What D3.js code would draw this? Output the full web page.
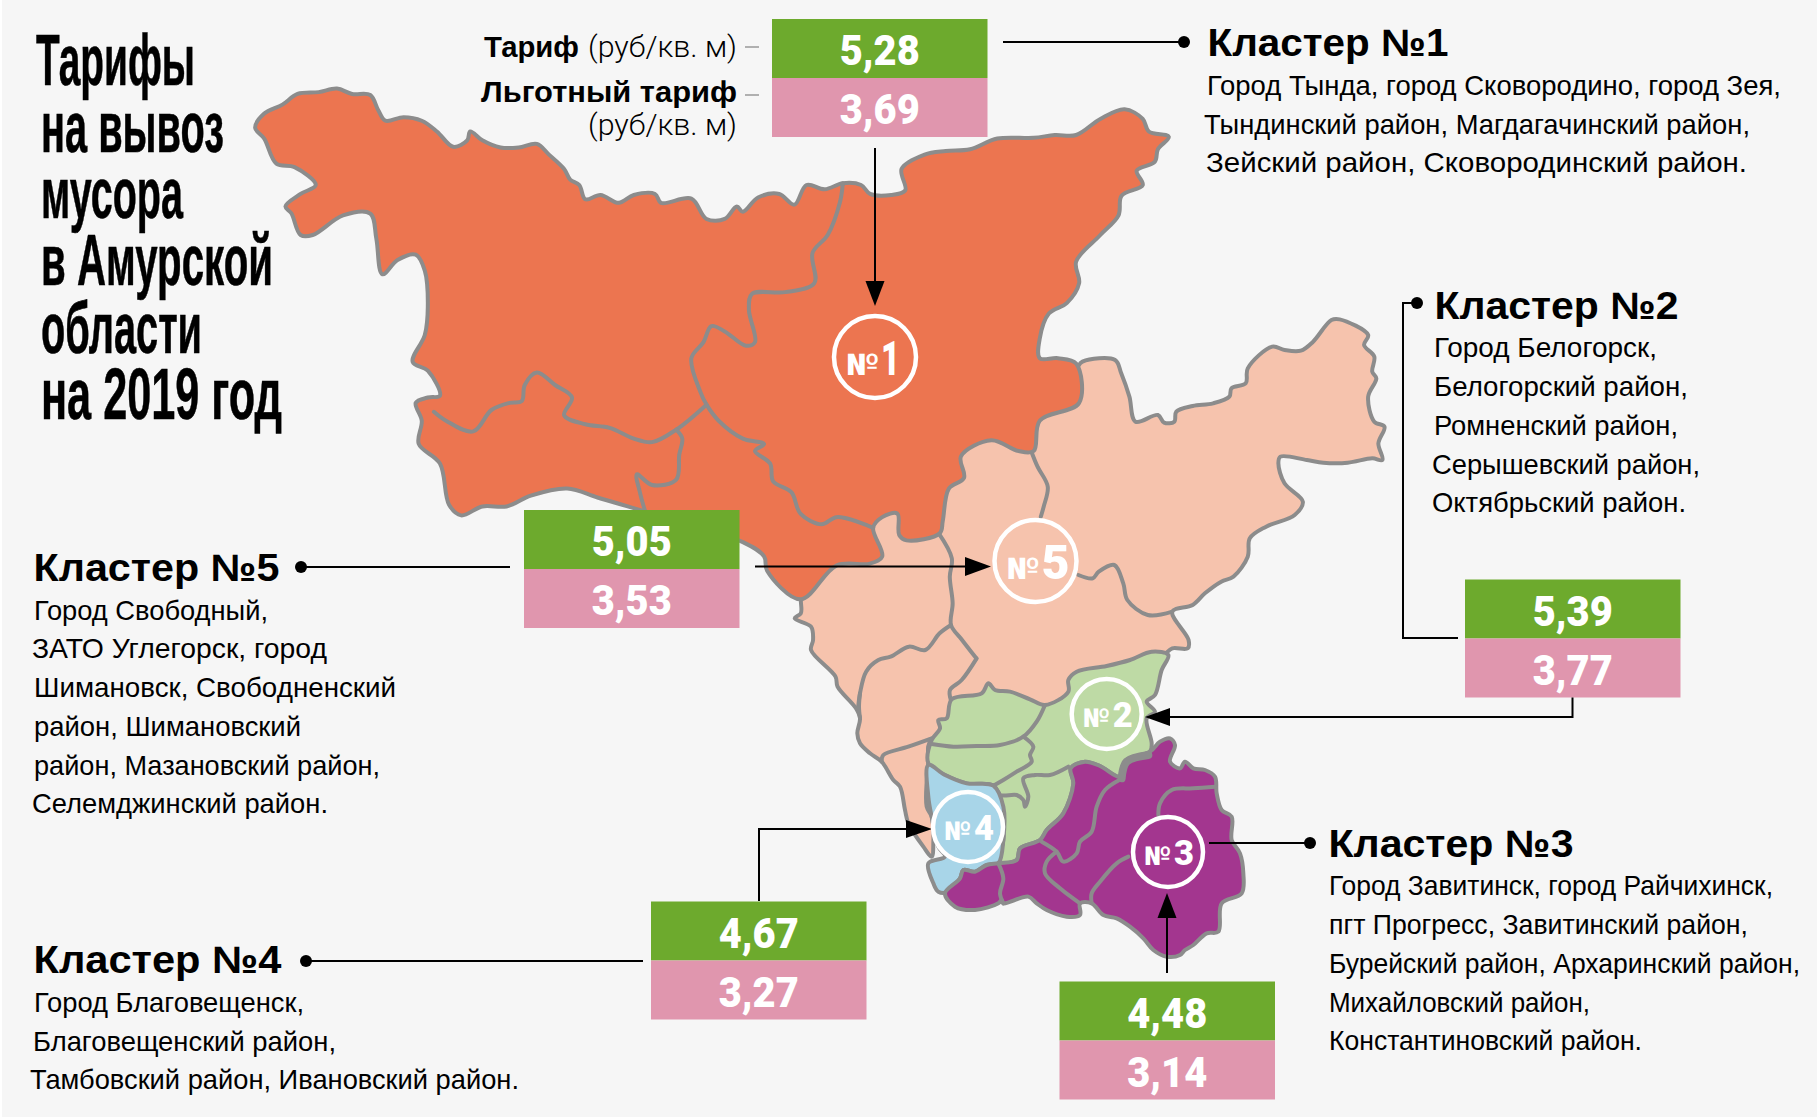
<!DOCTYPE html>
<html lang="ru">
<head>
<meta charset="utf-8">
<script src="https://cdn.jsdelivr.net/npm/d3@7"></script>
<style>
  html, body { margin: 0; padding: 0; background: #fff; }
  svg { display: block; }
  text { font-family: "Liberation Sans", Arial, sans-serif; fill: #000; }
  .title { font-family: "Liberation Sans Narrow", "Liberation Sans", sans-serif; font-weight: 700; font-size: 72px; stroke: #000; stroke-width: 0.6; }
  .head { font-weight: 700; font-size: 38px; }
  .body { font-size: 28px; }
  .legend-b { font-weight: 700; font-size: 30px; }
  .legend-l { font-family: Roboto, sans-serif; font-weight: 300; font-size: 30px; }
  .val { font-family: Roboto, sans-serif; font-weight: 900; font-size: 42px; fill: #fff; }
  .badge { font-family: Roboto, sans-serif; font-weight: 900; fill: #fff; }
  .region { stroke: #8c8c8c; stroke-width: 4; stroke-linejoin: round; }
  .border { fill: none; stroke: #8c8c8c; stroke-width: 4; stroke-linejoin: round; stroke-linecap: round; }
  .conn { fill: none; stroke: #000; stroke-width: 2; }
</style>
</head>
<body>
<script>
// Values
const clusters = ["Кластер №1", "Кластер №2", "Кластер №3", "Кластер №4", "Кластер №5"];
const tariffs = [5.28, 5.39, 4.48, 4.67, 5.05];
const discounted = [3.69, 3.77, 3.14, 3.27, 3.53];
const titleLines = ["Тарифы", "на вывоз", "мусора", "в Амурской", "области", "на 2019 год"];
const districts = [
  ["Город Тында, город Сковородино, город Зея,", "Тындинский район, Магдагачинский район,", "Зейский район, Сковородинский район."],
  ["Город Белогорск,", "Белогорский район,", "Ромненский район,", "Серышевский район,", "Октябрьский район."],
  ["Город Завитинск, город Райчихинск,", "пгт Прогресс, Завитинский район,", "Бурейский район, Архаринский район,", "Михайловский район,", "Константиновский район."],
  ["Город Благовещенск,", "Благовещенский район,", "Тамбовский район, Ивановский район."],
  ["Город Свободный,", "ЗАТО Углегорск, город", "Шимановск, Свободненский", "район, Шимановский", "район, Мазановский район,", "Селемджинский район."]
];

// Map outlines, traced in three crops of the picture, each with its own scales
const northX = d3.scaleLinear([0, 1568], [240, 1190]), northY = d3.scaleLinear([0, 1568], [60, 620]);
const eastX = d3.scaleLinear([0, 1568], [760, 1400]), eastY = d3.scaleLinear([0, 1200], [310, 710]);
const southX = d3.scaleLinear([0, 1260], [860, 1280]), southY = d3.scaleLinear([0, 960], [640, 960]);
const north = pts => pts.map(d => [northX(d[0]), northY(d[1])]);
const east = pts => pts.map(d => [eastX(d[0]), eastY(d[1])]);
const south = pts => pts.map(d => [southX(d[0]), southY(d[1])]);

const orangeOutline = [[25,190],[40,150],[70,125],[95,95],[130,90],[160,80],[185,95],[215,98],[228,140],[240,170],[270,160],[300,170],[325,200],[352,243],[375,225],[380,200],[400,225],[430,245],[460,245],[490,235],[510,265],[535,305],[545,335],[560,350],[570,390],[595,378],[625,400],[650,378],[685,375],[695,400],[745,388],[770,445],[800,445],[820,410],[830,425],[855,385],[890,375],[915,405],[935,350],[965,362],[995,345],[1025,350],[1040,375],[1075,378],[1098,365],[1092,305],[1130,265],[1165,255],[1205,250],[1250,220],[1310,218],[1345,210],[1380,210],[1420,165],[1460,138],[1490,165],[1500,200],[1533,215],[1515,250],[1510,285],[1480,310],[1490,350],[1455,380],[1450,435],[1420,490],[1380,565],[1385,625],[1365,680],[1335,710],[1320,780],[1320,835],[1350,835],[1380,850],[1385,960],[1320,1010],[1310,1095],[1285,1095],[1240,1065],[1190,1110],[1195,1170],[1170,1200],[1160,1290],[1155,1325],[1100,1345],[1088,1330],[1085,1270],[1060,1280],[1045,1310],[1060,1390],[1040,1410],[985,1415],[925,1510],[870,1430],[865,1390],[830,1350],[640,1250],[590,1225],[540,1200],[480,1220],[440,1250],[400,1250],[365,1275],[345,1245],[330,1130],[295,1075],[300,1010],[290,960],[310,945],[330,940],[310,870],[285,845],[305,770],[310,690],[305,590],[290,545],[260,560],[235,600],[225,500],[215,430],[170,435],[120,490],[100,490],[85,430],[75,410],[100,375],[125,350],[90,300],[60,290],[40,220]];
const orangeBorders = [
  [[995,345],[990,400],[970,490],[945,540],[948,625],[900,650],[845,655],[840,700],[850,790],[835,800],[800,760],[778,745],[765,790],[745,835],[760,930],[770,965],[790,1010],[830,1060],[865,1075],[850,1095],[875,1130],[880,1180],[910,1210],[925,1270],[960,1300],[985,1280],[1045,1310]],
  [[320,985],[340,1010],[385,1040],[415,980],[445,960],[465,955],[470,910],[490,875],[520,910],[548,945],[535,995],[570,1020],[610,1030],[650,1060],[680,1070],[720,1035],[770,965]],
  [[720,1035],[730,1060],[725,1105],[720,1175],[680,1190],[655,1160],[660,1210],[668,1260]]
];

const peachEast = [[600,200],[770,180],[790,155],[870,150],[885,190],[905,260],[920,335],[975,315],[990,338],[1015,335],[1020,305],[1060,288],[1110,280],[1150,260],[1155,235],[1190,220],[1195,175],[1255,110],[1285,120],[1325,122],[1355,95],[1400,30],[1420,28],[1490,75],[1480,105],[1505,140],[1500,185],[1510,205],[1490,260],[1505,335],[1530,350],[1515,400],[1525,450],[1500,445],[1440,458],[1380,458],[1340,450],[1275,440],[1270,460],[1285,520],[1330,575],[1310,615],[1240,650],[1200,685],[1195,740],[1160,800],[1130,815],[1090,850],[1060,885],[1010,905],[1050,990],[1048,1015],[1010,1015],[990,1035]];
const peachSouth = [[600,300],[215,300],[205,370],[200,500],[215,530],[220,610],[215,650],[190,620],[145,550],[135,510],[120,440],[100,420],[65,365],[30,340],[0,310],[-8,280],[0,235]];
const peachWest = [[235,1195],[190,1130],[185,1100],[125,1020],[130,990],[125,950],[85,925],[100,910],[100,870],[100,760],[400,500]];
const peachBordersEast = [
  [[665,425],[680,470],[705,530],[695,590],[688,620]],
  [[780,795],[815,805],[830,785],[868,765],[890,820],[900,870],[950,915],[1010,905]],
  [[438,670],[470,745],[465,800],[472,880],[468,945],[495,990],[530,1045]],
  [[468,945],[440,970],[405,1020],[365,1010],[320,1040],[290,1050],[260,1085],[245,1150],[240,1200]]
];
const peachBordersSouth = [
  [[350,55],[305,120],[270,150],[272,178]],
  [[0,160],[-3,200],[0,235]],
  [[215,295],[145,320],[70,345],[65,365]]
];

const greenOutline = [[925,45],[905,90],[885,165],[860,185],[885,215],[860,235],[875,310],[870,335],[800,360],[790,390],[778,410],[720,378],[675,365],[632,385],[640,430],[610,520],[560,570],[540,600],[480,625],[470,660],[415,665],[430,600],[425,490],[400,437],[320,430],[255,405],[205,370],[215,300],[240,265],[235,240],[260,235],[275,178],[365,160],[385,130],[405,150],[450,155],[510,178],[555,195],[625,155],[625,120],[650,95],[740,78],[810,60],[875,35]];
const greenBorders = [
  [[555,195],[530,245],[490,290],[420,315],[350,318],[280,320],[215,312]],
  [[490,290],[520,320],[510,345],[515,365],[470,395],[430,420],[400,437]],
  [[400,437],[420,465],[470,465],[490,480],[495,500],[505,470],[490,415],[525,405],[570,405],[625,380]]
];
const blueOutline = [[205,375],[255,405],[320,430],[400,437],[430,500],[430,600],[415,670],[380,675],[345,695],[310,690],[300,715],[265,755],[235,755],[220,730],[205,670],[255,650],[235,620],[215,530],[205,470]];
const purpleOutline = [[870,335],[900,305],[930,295],[945,315],[930,365],[960,385],[975,365],[1000,385],[1035,390],[1065,410],[1070,460],[1085,510],[1115,530],[1115,600],[1140,640],[1150,700],[1145,760],[1085,790],[1075,875],[1040,880],[1000,915],[975,930],[960,945],[920,950],[880,930],[850,895],[810,860],[770,835],[730,825],[695,790],[660,790],[660,825],[620,830],[560,810],[530,790],[505,770],[430,790],[425,780],[415,790],[345,810],[285,800],[255,760],[300,715],[310,690],[345,695],[380,675],[415,670],[470,660],[480,625],[540,600],[560,570],[610,520],[640,430],[632,385],[675,365],[720,378],[778,410],[790,390],[800,360]];
const purpleBorders = [
  [[778,420],[735,450],[710,500],[695,575],[660,605],[650,640],[610,665],[590,635],[545,605]],
  [[590,635],[560,665],[555,700],[600,745],[660,790]],
  [[415,670],[430,715],[420,760],[430,790]],
  [[805,650],[770,670],[720,725],[695,760],[695,790]],
  [[895,525],[900,490],[935,450],[1000,445],[1065,440]]
];
const purpleThick = [[785,415],[800,365],[865,345]];

const width = 1817, height = 1117;
const svg = d3.select("body").append("svg").attr("width", width).attr("height", height);
svg.append("rect").attr("x", 2).attr("width", width - 2).attr("height", height).attr("fill", "#f6f6f6");

const line = d3.line();
const closedCurve = d3.line().curve(d3.curveCatmullRomClosed.alpha(0.5));
const openCurve = d3.line().curve(d3.curveCatmullRom.alpha(0.5));
const shape = (pts, fill) => svg.append("path").attr("class", "region").attr("d", closedCurve(pts)).attr("fill", fill);
const border = pts => svg.append("path").attr("class", "border").attr("d", openCurve(pts));

// Regions, lowest first
shape([...east(peachEast), ...south(peachSouth), ...east(peachWest)], "#f6c3ad");
peachBordersEast.forEach(p => border(east(p)));
peachBordersSouth.forEach(p => border(south(p)));
shape(south(greenOutline), "#bedaa5");
greenBorders.forEach(p => border(south(p)));
shape(south(blueOutline), "#a8d5e8");
shape(south(purpleOutline), "#a3368f");
purpleBorders.forEach(p => border(south(p)));
border(south(purpleThick)).style("stroke-width", 8);
shape(north(orangeOutline), "#ec7550");
orangeBorders.forEach(p => border(north(p)));

// Text squeezed to the width it has in the picture
function fit(cls, x, y, w, str) {
  return svg.append("text").attr("class", cls).attr("x", x).attr("y", y)
    .attr("textLength", w).attr("lengthAdjust", "spacingAndGlyphs").text(str);
}

// Title
const titleX = [36, 41, 41, 41, 41, 41];
const titleW = [159, 183, 142, 232, 161, 241];
const titleY = [85, 152, 218, 285, 353, 419];
titleLines.forEach((t, i) => fit("title", titleX[i], titleY[i], titleW[i], t));

// Legend beside the first box
fit("legend-b", 484, 57, 95, "Тариф");
fit("legend-l", 588, 57, 149, "(руб/кв. м)");
fit("legend-b", 481, 102, 256, "Льготный тариф");
fit("legend-l", 588, 135, 149, "(руб/кв. м)");
svg.append("path").attr("d", "M745,47H759M745,95H759").attr("stroke", "#999").attr("stroke-width", 1.5);

// Tariff boxes
const boxX = [772, 1465, 1059.5, 651, 524];
const boxY = [19, 579.5, 981.5, 901.5, 510];
const boxW = 215.5, boxH = 59;
const fmt = v => v.toFixed(2).replace(".", ",");
tariffs.forEach((v, i) => {
  svg.append("rect").attr("x", boxX[i]).attr("y", boxY[i]).attr("width", boxW).attr("height", boxH).attr("fill", "#6daa2d");
  svg.append("rect").attr("x", boxX[i]).attr("y", boxY[i] + boxH).attr("width", boxW).attr("height", boxH).attr("fill", "#e096ae");
  fit("val", boxX[i] + boxW / 2 - 40, boxY[i] + 46, 80, fmt(v));
  fit("val", boxX[i] + boxW / 2 - 40, boxY[i] + boxH + 46, 80, fmt(discounted[i]));
});

// Cluster headings and district lists
const headX = [1207.5, 1434.5, 1328.5, 33.5, 33.5];
const headY = [56, 319, 857, 973, 581];
const headW = [241, 244, 245, 248, 246];
clusters.forEach((c, i) => fit("head", headX[i], headY[i], headW[i], c));
const listX = [
  [1207, 1204, 1206],
  [1434, 1434, 1434, 1432, 1432],
  [1329, 1329, 1329, 1329, 1329],
  [34, 33, 30],
  [34, 32, 34, 34, 34, 32]
];
const listW = [
  [574, 546, 541],
  [223, 254, 244, 268, 254],
  [444, 419, 471, 261, 313],
  [270, 303, 489],
  [234, 295, 362, 267, 346, 296]
];
const listY = [
  [95, 133.5, 171.5],
  [357, 396, 434.5, 473.5, 511.5],
  [894.5, 933.5, 972.5, 1011.5, 1050],
  [1012, 1051, 1089],
  [620, 658, 697, 736, 775, 813]
];
districts.forEach((rows, i) => rows.forEach((r, j) => fit("body", listX[i][j], listY[i][j], listW[i][j], r)));

// Connectors
const connectors = [
  [[1003, 42], [1184, 42]],
  [[875, 148], [875, 285]],
  [[1417, 303], [1403, 303], [1403, 638], [1458, 638]],
  [[1572.5, 697.5], [1572.5, 717], [1168, 717]],
  [[1209, 843], [1310, 843]],
  [[1167, 973], [1167, 915]],
  [[759, 901], [759, 829], [908, 829]],
  [[306, 961], [643, 961]],
  [[301, 567], [510, 567]],
  [[755, 566.5], [968, 566.5]]
];
connectors.forEach(c => svg.append("path").attr("class", "conn").attr("d", line(c)));
const dots = [[1184, 42], [1417, 303], [1310, 843], [306, 961], [301, 567]];
svg.selectAll(".dot").data(dots).join("circle").attr("class", "dot")
  .attr("cx", d => d[0]).attr("cy", d => d[1]).attr("r", 6).attr("fill", "#000");
const arrows = [
  [[875, 306], [865.5, 281], [884.5, 281]],
  [[991, 566.5], [965, 557], [965, 576]],
  [[1145, 717], [1170, 708], [1170, 726]],
  [[932, 829], [906, 820], [906, 838]],
  [[1167, 893], [1157.5, 918], [1176.5, 918]]
];
arrows.forEach(a => svg.append("path").attr("d", line(a) + "Z").attr("fill", "#000"));

// Number badges on the map
const badgeNum = ["1", "2", "3", "4", "5"];
const badgeX = [875, 1106.7, 1168, 968, 1035.5];
const badgeY = [357, 714, 852, 827, 561];
const badgeR = [41, 35, 35, 35, 41];
const badgeFill = ["none", "#bedaa5", "#a3368f", "#a8d5e8", "#f6c3ad"];
badgeNum.forEach((n, i) => {
  const big = badgeR[i] > 38;
  svg.append("circle").attr("cx", badgeX[i]).attr("cy", badgeY[i]).attr("r", badgeR[i])
    .attr("fill", badgeFill[i]).attr("stroke", "#fff").attr("stroke-width", 4.5);
  fit("badge", badgeX[i] + (big ? -29 : -24), badgeY[i] + (big ? 18 : 13), big ? 33 : 27, "№").style("font-size", (big ? 30 : 26) + "px");
  fit("badge", badgeX[i] + (big ? 6 : 6), badgeY[i] + (big ? 18 : 13), n === "1" ? (big ? 19 : 14) : (big ? 28 : 20), n).style("font-size", (big ? 49 : 35) + "px");
});
</script>
</body>
</html>
